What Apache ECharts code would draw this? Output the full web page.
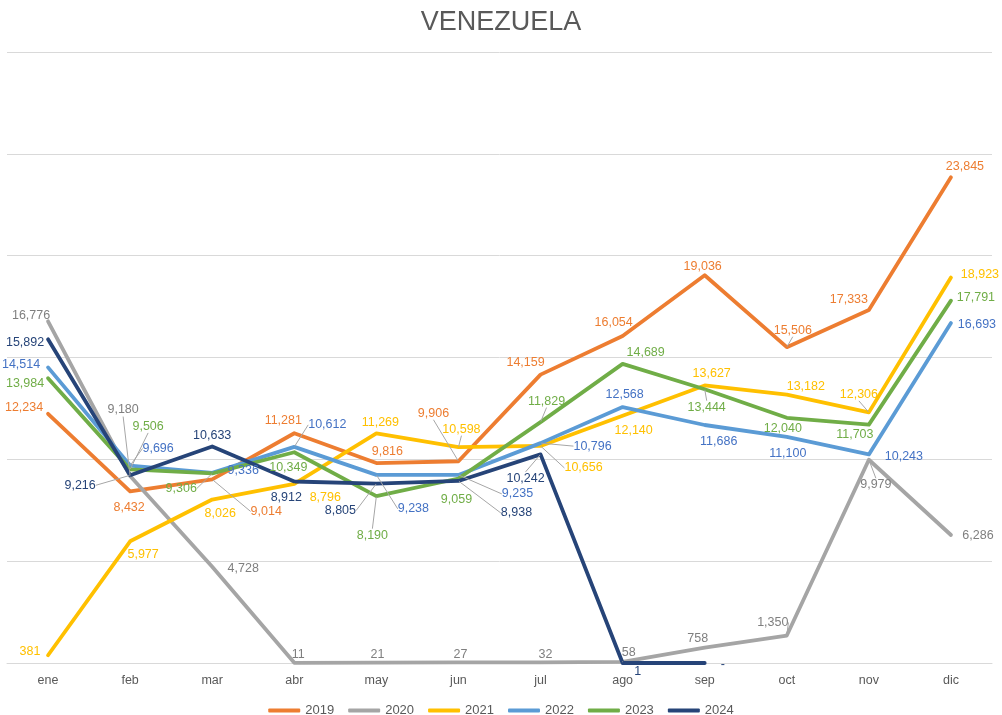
<!DOCTYPE html>
<html>
<head>
<meta charset="utf-8">
<script src="https://cdn.jsdelivr.net/npm/echarts@6/dist/echarts.min.js"></script>
<style>
    html, body { margin: 0; padding: 0; background: #fff; }
    #chart { width: 1002px; height: 715px; }
</style>
</head>
<body>
<div id="chart"></div>
<script>
const months = ['ene', 'feb', 'mar', 'abr', 'may', 'jun', 'jul', 'ago', 'sep', 'oct', 'nov', 'dic']
const years = ['2019', '2020', '2021', '2022', '2023', '2024']

const v2019 = [12234, 8432, 9014, 11281, 9816, 9906, 14159, 16054, 19036, 15506, 17333, 23845]
const v2020 = [16776, 9180, 4728, 11, 21, 27, 32, 58, 758, 1350, 9979, 6286]
const v2021 = [381, 5977, 8026, 8796, 11269, 10598, 10656, 12140, 13627, 13182, 12306, 18923]
const v2022 = [14514, 9696, 9336, 10612, 9238, 9235, 10796, 12568, 11686, 11100, 10243, 16693]
const v2023 = [13984, 9506, 9306, 10349, 8190, 9059, 11829, 14689, 13444, 12040, 11703, 17791]
const v2024 = [15892, 9216, 10633, 8912, 8805, 8938, 10242, 1, 0, null, null, null]
const values = [v2019, v2020, v2021, v2022, v2023, v2024]

// line colours, label colours
const lineColor = ['#ED7D31', '#A5A5A5', '#FFC000', '#5B9BD5', '#70AD47', '#264478']
const labelColor = ['#ED7D31', '#7F7F7F', '#FFC000', '#4472C4', '#70AD47', '#264478']

// label offsets (px from the point) and which labels get a leader line
const labelOffsets = [
    [[-24, -6], [-1, 16], [54, 32], [-11, -13], [11, -12], [-25, -48], [-15, -12], [-9, -13], [-2, -9], [6, -17], [-20, -10], [14, -11]],
    [[-17, -6], [-7, -66], [31, 2], [4, -8], [1, -8], [2, -8], [5, -8], [6, -9], [-7, -9], [-14, -13], [7, 25], [27, 1]],
    [[-18, -4], [13, 13], [8, 14], [31, 14], [4, -11], [3, -18], [43, 22], [11, 15], [7, -12], [19, -8], [-10, -18], [29, -3]],
    [[-27, -3], [28, -17], [31, -2], [33, -22], [37, 34], [59, 19], [52, 3], [2, -12], [14, 17], [1, 17], [35, 2], [26, 2]],
    [[-23, 5], [18, -43], [-31, 15], [-6, 15], [-4, 39], [-2, 21], [6, -21], [23, -11], [2, 18], [-4, 11], [-14, 10], [25, -3]],
    [[-23, 3], [-50, 10], [0, -11], [-8, 16], [-36, 27], [58, 32], [-15, 24], [15, 9], [18, 2]]
]
const leaders = [
    [2, 5, 9],
    [1, 9, 10],
    [5, 6, 10],
    [1, 3, 4, 5, 6],
    [1, 2, 4, 6, 8],
    [1, 4, 5, 6]
]

const fmt = (v) => v === 0 ? '-' : v.toLocaleString('en-US')

const series = years.map((name, s) => ({
    name: name,
    type: 'line',
    symbol: 'circle',
    symbolSize: 1,
    showSymbol: true,
    itemStyle: { color: lineColor[s] },
    lineStyle: { width: 3.8, color: lineColor[s], cap: 'round', join: 'round' },
    label: {
        show: true,
        position: 'inside',
        color: labelColor[s],
        fontSize: 12.5,
        fontFamily: 'Liberation Sans, Arial, sans-serif',
        formatter: (p) => fmt(p.value)
    },
    labelLine: {
        show: false,
        lineStyle: { color: '#A6A6A6', width: 1 }
    },
    labelLayout: (p) => {
        const o = labelOffsets[s][p.dataIndex] || [0, -10]
        return { dx: o[0], dy: o[1] }
    },
    data: values[s].map((v, i) => leaders[s].includes(i)
        ? { value: v, labelLine: { show: true, lineStyle: { color: '#A6A6A6', width: 1 } } }
        : v)
}))

const chart = echarts.init(document.getElementById('chart'))
chart.setOption({
    animation: false,
    title: {
        text: 'VENEZUELA',
        left: 'center',
        top: 4,
        textStyle: {
            fontSize: 27,
            fontWeight: 'normal',
            color: '#595959',
            fontFamily: 'Liberation Sans Narrow, Liberation Sans, Arial, sans-serif'
        }
    },
    legend: {
        top: 699,
        left: 'center',
        icon: 'roundRect',
        itemWidth: 32,
        itemHeight: 4,
        itemGap: 14,
        textStyle: { fontSize: 13, color: '#595959', fontFamily: 'Liberation Sans, Arial, sans-serif' },
        data: years
    },
    grid: { left: 7, right: 10, top: 52, bottom: 52, containLabel: false },
    xAxis: {
        type: 'category',
        data: months,
        boundaryGap: true,
        axisTick: { show: false },
        axisLine: { lineStyle: { color: '#D9D9D9', width: 1 } },
        axisLabel: { color: '#595959', fontSize: 12.5, margin: 11, fontFamily: 'Liberation Sans, Arial, sans-serif' }
    },
    yAxis: {
        type: 'value',
        min: 0,
        max: 30000,
        interval: 5000,
        axisLabel: { show: false },
        axisLine: { show: false },
        axisTick: { show: false },
        splitLine: { lineStyle: { color: '#D9D9D9', width: 1 } }
    },
    series: series
})
</script>
</body>
</html>
